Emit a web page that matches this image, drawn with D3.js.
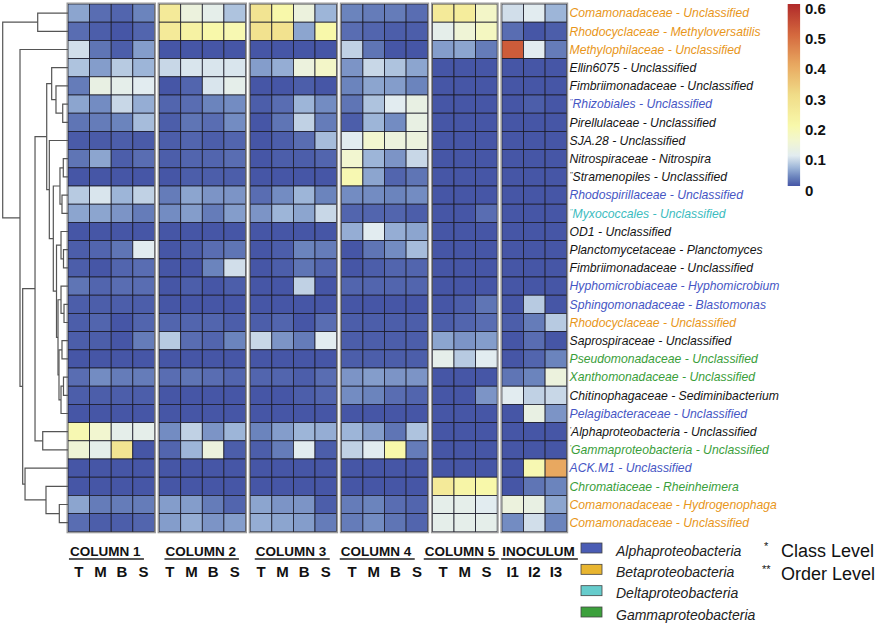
<!DOCTYPE html>
<html><head><meta charset="utf-8">
<script src="https://cdn.jsdelivr.net/npm/d3@7"></script>
<style>
body{margin:0;background:#fff}
svg{display:block}
text{font-family:"Liberation Sans",Arial,sans-serif}
</style>
</head><body>
<svg id="c" width="889" height="624"></svg>
<script>
// ---------------- data ----------------
const groups = ["COLUMN 1","COLUMN 2","COLUMN 3","COLUMN 4","COLUMN 5","INOCULUM"];
const groupColumns = [["T","M","B","S"],["T","M","B","S"],["T","M","B","S"],["T","M","B","S"],["T","M","S"],["I1","I2","I3"]];

const rowLabels = [
  "Comamonadaceae - Unclassified","Rhodocyclaceae - Methyloversatilis","Methylophilaceae - Unclassified",
  "Ellin6075 - Unclassified","Fimbriimonadaceae - Unclassified","Rhizobiales  - Unclassified",
  "Pirellulaceae - Unclassified","SJA.28 - Unclassified","Nitrospiraceae - Nitrospira",
  "Stramenopiles - Unclassified","Rhodospirillaceae - Unclassified","Myxococcales - Unclassified",
  "OD1 - Unclassified","Planctomycetaceae - Planctomyces","Fimbriimonadaceae - Unclassified",
  "Hyphomicrobiaceae - Hyphomicrobium","Sphingomonadaceae - Blastomonas","Rhodocyclaceae - Unclassified",
  "Saprospiraceae - Unclassified","Pseudomonadaceae - Unclassified","Xanthomonadaceae - Unclassified",
  "Chitinophagaceae - Sediminibacterium","Pelagibacteraceae - Unclassified","Alphaproteobacteria - Unclassified",
  "Gammaproteobacteria - Unclassified","ACK.M1 - Unclassified","Chromatiaceae - Rheinheimera",
  "Comamonadaceae - Hydrogenophaga","Comamonadaceae - Unclassified"
];
const rowMarks = ["","","","","","**","","","","**","","**","","","","","","","","","","","","*","*","","","",""];
const rowClass = ["Beta","Beta","Beta","none","none","Alpha","none","none","none","none","Alpha","Delta","none","none","none",
  "Alpha","Alpha","Beta","none","Gamma","Gamma","none","Alpha","none","Gamma","Alpha","Gamma","Beta","Beta"];

// rows x columns (C1 T M B S | C2 T M B S | C3 T M B S | C4 T M B S | C5 T M S | I1 I2 I3)
const values = [
  [0.05,0.015,0.01,0.03, 0.25,0.13,0.11,0.07, 0.27,0.2,0.13,0.06, 0.03,0.025,0.025,0.015, 0.25,0.24,0.16, 0.09,0.1,0.06],
  [0.015,0.005,0,0.01, 0.25,0.22,0.2,0.19, 0.28,0.28,0.05,0.2, 0.015,0.01,0.005,0.005, 0.11,0.14,0.17, 0.015,0,0.005],
  [0.09,0.02,0.005,0.045, 0,0,0,0, 0,0,0,0, 0.08,0.02,0,0, 0.045,0.05,0.025, 0.52,0.1,0.025],
  [0.07,0.045,0.075,0.06, 0.085,0.095,0.095,0.095, 0.045,0.055,0.13,0.16, 0.04,0.085,0.07,0.05, 0,0,0, 0,0,0],
  [0.025,0.12,0.11,0.1, 0,0.01,0.095,0.11, 0,0,0.005,0, 0.03,0.05,0.045,0.03, 0,0,0, 0,0,0],
  [0.05,0.035,0.085,0.055, 0.01,0.015,0.03,0.035, 0.005,0.015,0.06,0.035, 0.02,0.07,0.1,0.12, 0,0,0, 0,0.005,0],
  [0.02,0.025,0.03,0.065, 0.005,0.02,0.015,0.035, 0,0.02,0.08,0.025, 0.005,0.06,0.035,0.12, 0,0,0, 0,0,0],
  [0.003,0.003,0.005,0.003, 0.005,0.01,0.005,0.01, 0,0.005,0.015,0.065, 0.1,0.15,0.13,0.13, 0,0,0, 0,0,0],
  [0.02,0.05,0.005,0.015, 0.005,0.01,0.01,0.015, 0,0.005,0.005,0.01, 0.15,0.06,0.04,0.085, 0,0,0, 0,0,0],
  [0,0,0,0, 0,0.005,0.005,0.005, 0,0,0,0, 0.19,0.05,0.01,0.02, 0,0,0, 0,0,0],
  [0.075,0.095,0.06,0.08, 0.025,0.05,0.04,0.04, 0.015,0.035,0.06,0.03, 0.035,0.035,0.03,0.035, 0,0,0, 0,0,0],
  [0.05,0.05,0.04,0.025, 0.035,0.045,0.025,0.045, 0.04,0.06,0.05,0.085, 0.01,0.01,0.01,0.005, 0,0,0.015, 0,0,0],
  [0,0,0,0, 0,0,0,0, 0,0,0,0, 0.055,0.1,0.055,0.05, 0,0,0, 0,0,0],
  [0.005,0.01,0.02,0.1, 0,0.005,0.015,0.02, 0,0.005,0.03,0.025, 0,0.02,0.035,0.065, 0,0,0, 0,0,0],
  [0.005,0,0.01,0.015, 0,0,0.03,0.09, 0,0.005,0.02,0.01, 0,0.005,0.01,0.01, 0,0,0, 0,0,0],
  [0.02,0.01,0.015,0.015, 0,0.005,0,0.005, 0,0,0.08,0, 0.01,0.01,0.01,0.01, 0,0,0, 0,0,0],
  [0.005,0.005,0.005,0.005, 0,0,0,0, 0,0,0,0, 0,0,0,0, 0,0.005,0.02, 0,0.075,0],
  [0.005,0.01,0,0.01, 0.01,0.01,0.01,0.005, 0.005,0.01,0,0.015, 0.005,0.005,0.005,0.005, 0.005,0.01,0.015, 0.005,0.025,0.075],
  [0.005,0.005,0,0.025, 0.075,0.015,0.01,0.03, 0.085,0.04,0.025,0.1, 0.005,0.005,0.005,0.005, 0.05,0.04,0.045, 0,0.015,0],
  [0,0,0,0, 0,0,0,0, 0,0,0,0, 0.005,0.005,0.005,0.005, 0.11,0.075,0.1, 0,0.01,0.03],
  [0.015,0.035,0.025,0.025, 0.015,0.02,0.015,0.01, 0.01,0.01,0.005,0.015, 0.04,0.045,0.04,0.04, 0,0,0, 0.02,0.03,0.13],
  [0.005,0.005,0.005,0.005, 0,0,0,0, 0,0,0.005,0.01, 0.035,0.03,0.015,0.01, 0,0,0.04, 0.1,0.08,0.085],
  [0,0,0,0, 0,0,0,0, 0,0,0,0, 0,0,0,0, 0,0,0, 0,0.12,0.04],
  [0.19,0.15,0.11,0.11, 0.035,0.08,0.04,0.06, 0.03,0.045,0.06,0.055, 0.06,0.045,0.02,0.07, 0,0,0, 0,0,0],
  [0.14,0.11,0.27,0, 0.01,0.06,0.13,0.005, 0.005,0.025,0.1,0.005, 0.08,0.1,0.2,0.025, 0,0,0, 0,0,0],
  [0,0,0,0, 0,0,0,0, 0,0,0,0, 0,0,0,0, 0,0,0, 0,0.19,0.4],
  [0,0,0,0, 0,0,0,0, 0,0,0,0, 0,0,0,0, 0.25,0.21,0.2, 0,0.02,0.03],
  [0.05,0.025,0.025,0.025, 0.045,0.045,0.025,0.01, 0.05,0.04,0.04,0.005, 0.025,0.03,0.015,0.01, 0.11,0.11,0.1, 0.13,0.12,0.05],
  [0.015,0.005,0.005,0.01, 0.045,0.055,0.04,0.045, 0.055,0.05,0.045,0.025, 0.025,0.035,0.02,0.01, 0.11,0.11,0.11, 0.035,0.09,0.03]
];

// dendrogram merges: [childA, childB, height]; child >= 0 is a row, child < 0 is merge (-k-1)
const merges = [
  [5,6,0.081],[4,-1,0.184],[3,-2,0.25],[8,9,0.072],[10,11,0.092],[-4,-5,0.123],
  [13,14,0.069],[12,-7,0.107],[16,17,0.061],[15,-9,0.107],[18,19,0.092],[20,21,0.069],
  [-12,22,0.107],[-11,-13,0.138],[-10,-14,0.153],[-8,-15,0.176],[-6,-16,0.225],[7,-17,0.286],
  [-3,-18,0.326],[23,24,0.387],[-19,-20,0.505],[27,28,0.133],[26,-22,0.337],[25,-23,0.658],
  [-21,-24,0.694],[2,-25,0.735],[0,1,0.464],[-27,-26,1.0]
];

const legendTicks = [0,0.1,0.2,0.3,0.4,0.5,0.6];
const colorStops = [0,0.03,0.06,0.1,0.15,0.2,0.3,0.4,0.5,0.6];
const colorRange = ["#4656a6","#6b84bd","#9db5d8","#e2ecf0","#f2f6d0","#f8f8aa","#f0dc88","#e8a860","#d4683e","#b02a2a"];

const classNames = ["Alphaproteobacteria","Betaproteobacteria","Deltaproteobacteria","Gammaproteobacteria"];
const classFill = ["#4a5cb4","#e8b530","#66cccc","#3ca03c"];
const labelColor = {Alpha:"#4656c4",Beta:"#e8961a",Delta:"#3cbcc0",Gamma:"#3a9e3a",none:"#141414"};
const levelNotes = [["*","Class Level"],["**","Order Level"]];

// ---------------- layout ----------------
const svg = d3.select("#c");
svg.append("rect").attr("width",889).attr("height",624).attr("fill","#fff");

const gapRatio = 0.2176;
const cols = [];
let idx = 0;
groupColumns.forEach((g, gi) => g.forEach((lab) => {
  cols.push({group: gi, label: lab, slot: idx + gi*gapRatio});
  idx++;
}));
const nSlots = cols.length + (groups.length-1)*gapRatio;
const xS = d3.scaleLinear().domain([0, nSlots]).range([68, 566.7]);
const yS = d3.scaleBand().domain(d3.range(rowLabels.length)).range([4, 531.8]).padding(0);
const bw = yS.bandwidth();
const color = d3.scaleLinear().domain(colorStops).range(colorRange).interpolate(d3.interpolateRgb).clamp(true);

// heatmap cells
const gCells = svg.append("g");
values.forEach((row, r) => {
  gCells.selectAll(null).data(row).enter().append("rect")
    .attr("x", (d,c) => xS(cols[c].slot))
    .attr("y", yS(r))
    .attr("width", (d,c) => xS(cols[c].slot+1) - xS(cols[c].slot))
    .attr("height", bw)
    .attr("fill", d => color(d))
    .attr("stroke", "#1c1c2a")
    .attr("stroke-width", 0.8);
});

// group frames
groups.forEach((g, gi) => {
  const cs = cols.filter(c => c.group === gi);
  const x0 = xS(cs[0].slot), x1 = xS(cs[cs.length-1].slot+1);
  svg.append("rect").attr("x", x0-0.8).attr("y", yS(0)-0.8)
    .attr("width", x1-x0+1.6).attr("height", yS.range()[1]-yS(0)+1.6)
    .attr("fill","none").attr("stroke","#9a9a9a").attr("stroke-width",1.4);
});

// dendrogram
const dx = d3.scaleLinear().domain([0,1]).range([68, 2.7]);
const nodePos = {};
function pos(id){
  if (id >= 0) return {x: xS(0), y: yS(id)+bw/2};
  const k = -id-1;
  if (nodePos[k]) return nodePos[k];
  const [a,b,h] = merges[k];
  const p = pos(a), q = pos(b);
  nodePos[k] = {x: dx(h), y: (p.y+q.y)/2, p, q};
  return nodePos[k];
}
const gDen = svg.append("g");
merges.forEach((m,k) => {
  const n = pos(-k-1);
  gDen.append("path")
    .attr("d", `M${n.p.x},${n.p.y}H${n.x}V${n.q.y}H${n.q.x}`)
    .attr("fill","none").attr("stroke","#555").attr("stroke-width",1.2);
});

// row labels
const gLab = svg.append("g");
rowLabels.forEach((lab, r) => {
  const t = gLab.append("text").attr("x", 569.5).attr("y", yS(r)+bw/2+4.3)
    .attr("font-size", 12.2).attr("font-style","italic")
    .attr("fill", labelColor[rowClass[r]]);
  if (rowMarks[r]) t.append("tspan").attr("font-size",8).attr("dy",-4).text(rowMarks[r].replace(/\*/g,"'"));
  t.append("tspan").attr("dy", rowMarks[r] ? 4 : 0).text(lab);
});

// bottom group labels
const labelShift = [-6,-1.6,-2.4,-8.5,-4.8,4.2];
groups.forEach((g, gi) => {
  const cs = cols.filter(c => c.group === gi);
  const cx = (xS(cs[0].slot) + xS(cs[cs.length-1].slot+1))/2 + labelShift[gi];
  const t = svg.append("text").attr("x", cx).attr("y", 556)
    .attr("text-anchor","middle").attr("font-size",13.5).attr("font-weight","bold")
    .attr("fill","#111").text(g);
  const bb = t.node().getBBox();
  svg.append("line").attr("x1", bb.x-1).attr("x2", bb.x+bb.width+3)
    .attr("y1", 559).attr("y2", 559).attr("stroke","#222").attr("stroke-width",1.4);
});
svg.append("g").selectAll("text").data(cols).enter().append("text")
  .attr("x", d => (xS(d.slot)+xS(d.slot+1))/2)
  .attr("y", 577).attr("text-anchor","middle")
  .attr("font-size",15).attr("font-weight","bold").attr("fill","#111")
  .text(d => d.label);

// color legend
const ly = d3.scaleLinear().domain([0,0.6]).range([186, 4]);
const defs = svg.append("defs");
const grad = defs.append("linearGradient").attr("id","lg").attr("x1",0).attr("y1",1).attr("x2",0).attr("y2",0);
d3.range(0, 0.6001, 0.01).forEach(v => grad.append("stop").attr("offset", v/0.6).attr("stop-color", color(v)));
svg.append("rect").attr("x",787.7).attr("y",ly(0.6)).attr("width",12.4).attr("height",ly(0)-ly(0.6))
  .attr("fill","url(#lg)");
svg.append("g").selectAll("text").data(legendTicks).enter().append("text")
  .attr("x",805).attr("y", d => ly(d)+4+5.5)
  .attr("font-size",15).attr("font-weight","bold").attr("fill","#111")
  .text(d => d === 0 ? "0" : d.toFixed(1));

// class legend
const cy = d3.scalePoint().domain(classNames).range([548, 612]);
const gCl = svg.append("g");
classNames.forEach((n,i) => {
  gCl.append("rect").attr("x",581).attr("y",cy(n)-5).attr("width",21).attr("height",10)
    .attr("fill",classFill[i]).attr("stroke","#444").attr("stroke-width",0.8);
  gCl.append("text").attr("x",616).attr("y",cy(n)+7.5).attr("font-size",14).attr("font-style","italic")
    .attr("fill","#222").text(n);
});
const ny = d3.scalePoint().domain(levelNotes.map(d=>d[1])).range([557, 580]);
levelNotes.forEach(([m,n]) => {
  svg.append("text").attr("x", m.length>1 ? 762 : 764).attr("y", ny(n)-7).attr("font-size",11).attr("fill","#111").text(m);
  svg.append("text").attr("x",781).attr("y",ny(n)).attr("font-size",18).attr("fill","#111").text(n);
});
</script>
</body></html>
